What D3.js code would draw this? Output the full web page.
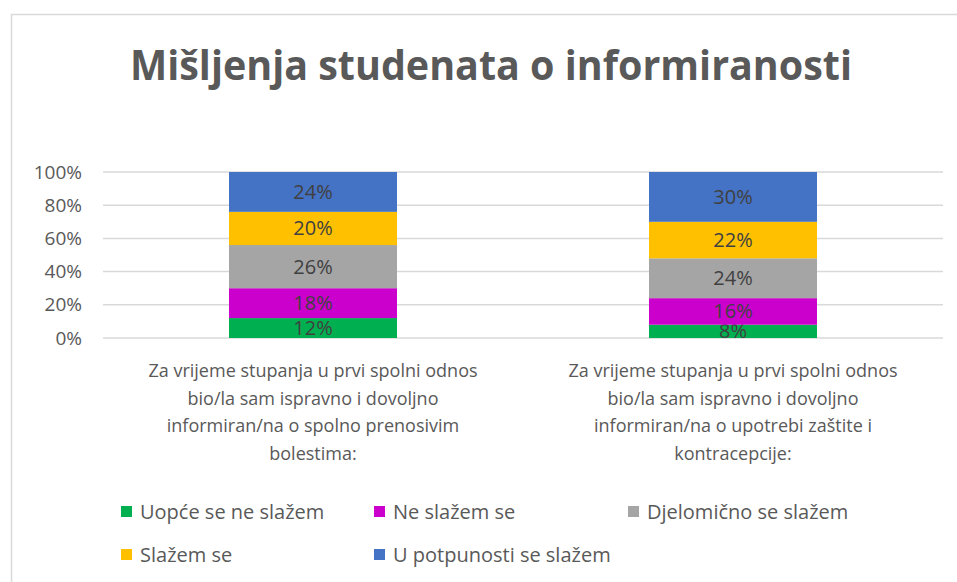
<!DOCTYPE html>
<meta charset="utf-8">
<script src="https://d3js.org/d3.v7.min.js"></script>
<style>
  body { margin: 0; background: #fff; }
  text { font-family: "Open Sans", sans-serif; }
</style>
<div id="my_dataviz"></div>
<script>

// data
var categories = [
  "Za vrijeme stupanja u prvi spolni odnos|bio/la sam ispravno i dovoljno|informiran/na o spolno prenosivim|bolestima:",
  "Za vrijeme stupanja u prvi spolni odnos|bio/la sam ispravno i dovoljno|informiran/na o upotrebi zaštite i|kontracepcije:"
];
var seriesNames = ["Uopće se ne slažem", "Ne slažem se", "Djelomično se slažem", "Slažem se", "U potpunosti se slažem"];
var seriesColors = ["#00b050", "#cc00cc", "#a5a5a5", "#ffc000", "#4472c4"];
var uopce     = [12, 8];
var neSlazem  = [18, 16];
var djelom    = [26, 24];
var slazem    = [20, 22];
var potpuno   = [24, 30];
var yTicks = [0, 20, 40, 60, 80, 100];

var rows = categories.map(function(c, i) {
  return {
    cat: c,
    "Uopće se ne slažem": uopce[i],
    "Ne slažem se": neSlazem[i],
    "Djelomično se slažem": djelom[i],
    "Slažem se": slazem[i],
    "U potpunosti se slažem": potpuno[i]
  };
});

var W = 957, H = 582;
var svg = d3.select("#my_dataviz").append("svg")
  .attr("width", W).attr("height", H);

// chart area border (runs off right and bottom)
svg.append("rect")
  .attr("x", 11.5).attr("y", 14.5)
  .attr("width", 980).attr("height", 600)
  .attr("fill", "#fff").attr("stroke", "#d9d9d9").attr("stroke-width", 1.5);

// title
var title = svg.append("text")
  .attr("x", 491).attr("y", 80)
  .attr("text-anchor", "middle")
  .style("font-size", "42px").style("font-weight", "bold")
  .style("fill", "#595959")
  .text("Mišljenja studenata o informiranosti");
if (title.node().getComputedTextLength() > 722) {
  title.attr("textLength", 722).attr("lengthAdjust", "spacingAndGlyphs");
}

var margin = {top: 172, left: 103},
    width = 943 - 103,
    height = 338 - 172;

var g = svg.append("g")
  .attr("transform", "translate(" + margin.left + "," + margin.top + ")");

var x = d3.scaleBand()
  .domain(categories)
  .range([0, width])
  .paddingInner(0.6).paddingOuter(0.3);

var y = d3.scaleLinear()
  .domain([0, 100])
  .range([height, 0]);

// gridlines
g.append("g")
  .selectAll("line")
  .data(yTicks)
  .enter().append("line")
    .attr("x1", 0).attr("x2", width)
    .attr("y1", function(d) { return y(d); })
    .attr("y2", function(d) { return y(d); })
    .attr("stroke", "#d9d9d9").attr("stroke-width", 1.5);

// Y axis labels
var yAxis = g.append("g")
  .call(d3.axisLeft(y).tickValues(yTicks).tickSize(0).tickPadding(21)
    .tickFormat(function(d) { return d + "%"; }));
yAxis.select(".domain").remove();
yAxis.selectAll("text")
  .style("font-size", "19px")
  .style("font-family", "'Open Sans', sans-serif")
  .style("fill", "#595959");

// stacked bars
var stack = d3.stack().keys(seriesNames);
var layers = stack(rows);

var layer = g.selectAll(".layer")
  .data(layers)
  .enter().append("g")
    .attr("class", "layer")
    .attr("fill", function(d, i) { return seriesColors[i]; });

layer.selectAll("rect")
  .data(function(d) { return d; })
  .enter().append("rect")
    .attr("x", function(d) { return x(d.data.cat); })
    .attr("y", function(d) { return y(d[1]); })
    .attr("width", x.bandwidth())
    .attr("height", function(d) { return y(d[0]) - y(d[1]); });

layer.selectAll("text")
  .data(function(d) { return d; })
  .enter().append("text")
    .attr("x", function(d) { return x(d.data.cat) + x.bandwidth() / 2; })
    .attr("y", function(d) { return (y(d[0]) + y(d[1])) / 2 + 7; })
    .attr("text-anchor", "middle")
    .style("font-size", "20px")
    .style("fill", "#404040")
    .text(function(d) { return (d[1] - d[0]) + "%"; });

// category labels
var catLabels = g.selectAll(".cat")
  .data(categories)
  .enter().append("text")
    .attr("class", "cat")
    .attr("x", function(d) { return x(d) + x.bandwidth() / 2; })
    .attr("y", height + 39)
    .attr("text-anchor", "middle")
    .style("font-size", "18px")
    .style("fill", "#595959");

catLabels.selectAll("tspan")
  .data(function(d) { return d.split("|"); })
  .enter().append("tspan")
    .attr("x", function() { return d3.select(this.parentNode).attr("x"); })
    .attr("dy", function(d, i) { return i === 0 ? 0 : 27.5; })
    .text(function(d) { return d; });

// legend
var legendPos = [[121, 512], [374, 512], [628, 512], [121, 555], [374, 555]];
var legend = svg.selectAll(".legend")
  .data(seriesNames)
  .enter().append("g")
    .attr("class", "legend")
    .attr("transform", function(d, i) { return "translate(" + legendPos[i][0] + "," + legendPos[i][1] + ")"; });

legend.append("rect")
  .attr("x", 0).attr("y", -6)
  .attr("width", 11).attr("height", 11)
  .attr("fill", function(d, i) { return seriesColors[i]; });

legend.append("text")
  .attr("x", 19).attr("y", 7)
  .style("font-size", "20px")
  .style("fill", "#595959")
  .text(function(d) { return d; });

</script>
